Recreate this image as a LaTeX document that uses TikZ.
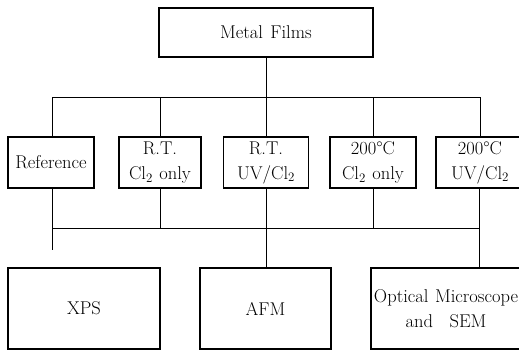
\documentclass[tikz,border=0pt]{standalone}
\usepackage{fontspec}
\begin{document}
\begin{tikzpicture}[x=1pt,y=-1pt,
  box/.style={draw,line width=1.1pt,inner sep=0pt,align=center,font=\fontsize{18.5}{25}\selectfont},
  conn/.style={line width=0.8pt}]
\useasboundingbox (0,0) rectangle (519,351);
\clip (0,0) rectangle (519,351);
% top
\node[box,minimum width=214,minimum height=49] (top) at (266,32.5) {Metal\hspace{0.4em}Films};
% second row
\node[box,minimum width=86,minimum height=51] (ref) at (51,162.5) {Reference};
\node[box,minimum width=82,minimum height=51] (rtcl) at (160,162.5) {R.T.\\Cl\textsubscript{2}\hspace{0.35em}only};
\node[box,minimum width=85,minimum height=51] (rtuv) at (266,162.5) {R.T.\\UV/Cl\textsubscript{2}};
\node[box,minimum width=86,minimum height=51] (hcl) at (373,162.5) {200°C\\Cl\textsubscript{2}\hspace{0.35em}only};
\node[box,minimum width=88,minimum height=51] (huv) at (480,162.5) {200°C\\UV/Cl\textsubscript{2}};
% bottom row
\node[box,minimum width=152,minimum height=81] (xps) at (84,308.5) {XPS};
\node[box,minimum width=131,minimum height=81] (afm) at (265.5,308.5) {AFM};
\node[box,minimum width=150,minimum height=81] (opt) at (446,308.5) {Optical\hspace{0.35em}Microscope\\and\hspace{0.9em}SEM};
% bus coordinates
\coordinate (b1) at (266,97);
\coordinate (b1l) at (52,97);
\coordinate (b1r) at (480,97);
\coordinate (b2l) at (52,228);
\coordinate (b2r) at (479,228);
\coordinate (xend) at (52,250);
% upper bus
\draw[conn] (top.south) -- (b1);
\draw[conn] (b1l) -- (b1r);
\draw[conn] (b1l) -- (b1l |- ref.north);
\draw[conn] (rtcl.north |- b1) -- (rtcl.north);
\draw[conn] (b1) -- (rtuv.north);
\draw[conn] (hcl.north |- b1) -- (hcl.north);
\draw[conn] (b1r) -- (b1r |- huv.north);
% lower bus
\draw[conn] (b2l |- ref.south) -- (xend);
\draw[conn] (b2l) -- (b2r);
\draw[conn] (rtcl.south) -- (rtcl.south |- b2l);
\draw[conn] (rtuv.south) -- (rtuv.south |- afm.north);
\draw[conn] (hcl.south) -- (hcl.south |- b2l);
\draw[conn] (b2r |- huv.south) -- (b2r |- opt.north);
\end{tikzpicture}
\end{document}
